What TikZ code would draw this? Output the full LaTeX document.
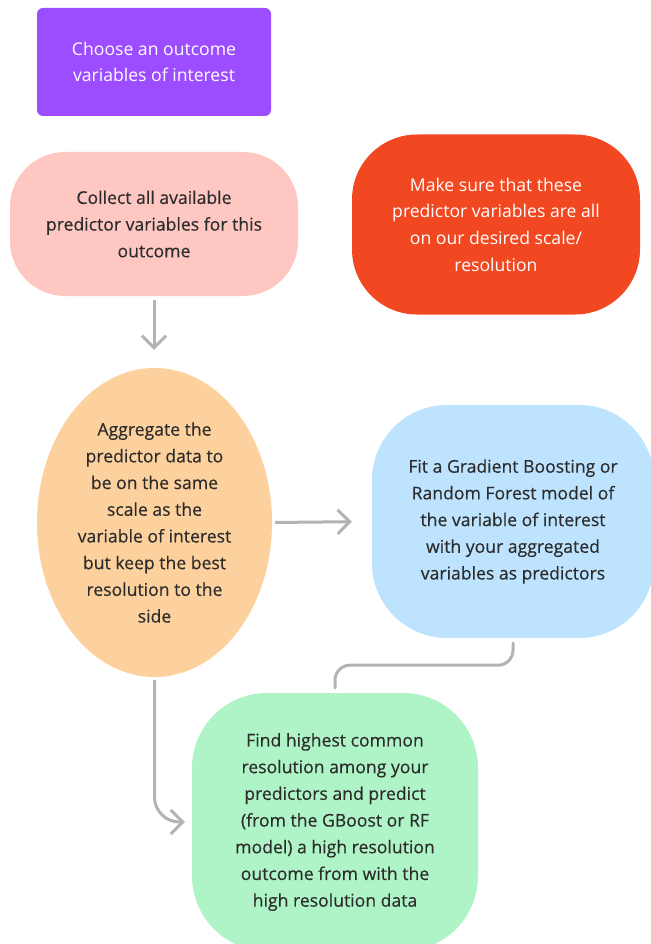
\documentclass[tikz,border=0pt]{standalone}
\usepackage{fontspec}
\setmainfont{Open Sans}
\newfontfamily\darkfont[FakeBold=0.35]{Open Sans}
\usepackage{tikz}
\usetikzlibrary{arrows.meta,shapes.geometric}
\definecolor{chooseviolet}{HTML}{9B4DFF}
\definecolor{collectpink}{HTML}{FFC7C2}
\definecolor{scalered}{HTML}{F24822}
\definecolor{aggorange}{HTML}{FDD19D}
\definecolor{fitblue}{HTML}{BDE3FF}
\definecolor{predictgreen}{HTML}{AFF4C6}
\definecolor{textdark}{HTML}{2C2C2C}
\definecolor{arrowgray}{HTML}{B3B3B3}

\begin{document}
\begin{tikzpicture}[x=1pt,y=-1pt]
  \tikzset{flowbox/.style={rectangle,inner sep=0pt,align=center,text=textdark,font=\darkfont\fontsize{17.6}{26.7}\selectfont}}
  \tikzset{lightbox/.style={flowbox,text=white,font=\fontsize{17.6}{26.7}\selectfont}}
  \tikzset{flowarrow/.style={draw=arrowgray,line width=3pt,-{Straight Barb[length=12pt,width=24pt]}}}
  \tikzset{flowlink/.style={draw=arrowgray,line width=3pt,line cap=round}}
  \useasboundingbox[fill=white] (0,0) rectangle (650,944);
  \node[lightbox,fill=chooseviolet,rounded corners=6pt,minimum width=234pt,minimum height=108pt] (choose) at (154,62) {Choose an outcome\\variables of interest};
  \node[flowbox,fill=collectpink,rounded corners=55pt,minimum width=288pt,minimum height=144pt] (collect) at (154,224) {Collect all available\\predictor variables for this\\outcome};
  \node[lightbox,fill=scalered,rounded corners=65pt,minimum width=288pt,minimum height=180pt] (scale) at (496,224.5) {Make sure that these\\predictor variables are all\\on our desired scale/\\resolution};
  \node[flowbox,ellipse,fill=aggorange,minimum width=235pt,minimum height=309pt] (aggregate) at (154.5,522.5) {Aggregate the\\predictor data to\\be on the same\\scale as the\\variable of interest\\but keep the best\\resolution to the\\side};
  \node[flowbox,fill=fitblue,rounded corners=75pt,minimum width=282pt,minimum height=233pt] (fit) at (513,521.5) {Fit a Gradient Boosting or\\Random Forest model of\\the variable of interest\\with your aggregated\\variables as predictors};
  \node[flowbox,fill=predictgreen,rounded corners=75pt,minimum width=286pt,minimum height=258pt] (predict) at (335,822) {Find highest common\\resolution among your\\predictors and predict\\(from the GBoost or RF\\model) a high resolution\\outcome from with the\\high resolution data};
  \draw[flowarrow,shorten <=4pt,shorten >=18pt] (collect.south) -- (collect.south |- aggregate.north);
  \draw[flowarrow,shorten <=3pt,shorten >=20pt] (aggregate.east) -- (fit.west);
  \draw[flowarrow,rounded corners=25pt,shorten <=3pt,shorten >=7pt] (aggregate.south) |- (predict.west);
  \draw[flowlink,rounded corners=15pt] ([yshift=-5pt]fit.south) -- ++(0,22) -| ([yshift=5pt]predict.north);
\end{tikzpicture}
\end{document}
